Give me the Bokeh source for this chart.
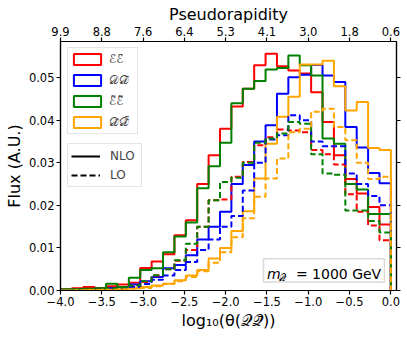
import numpy as np
from bokeh.plotting import figure
from bokeh.models import (Range1d, LinearAxis, FixedTicker, Legend, LegendItem,
                          BoxAnnotation, Label)
from bokeh.embed import file_html
from bokeh.resources import INLINE

# 29 equal bins in log10(theta) from -4 to 0
bin_edges = np.linspace(-4.0, 0.0, 30)

red_nlo = [0.0003, 0.0005, 0.0008, 0.0006, 0.0010, 0.0014, 0.0018, 0.0053, 0.0068, 0.0085,
           0.0130, 0.0165, 0.0250, 0.0318, 0.0380, 0.0432, 0.0474, 0.0529, 0.0556, 0.0527,
           0.0517, 0.0510, 0.0466, 0.0396, 0.0318, 0.0262, 0.0228, 0.0196, 0.0155]
blue_nlo = [0.0001, 0.0002, 0.0003, 0.0004, 0.0006, 0.0008, 0.0014, 0.0022, 0.0032, 0.0052,
            0.0060, 0.0083, 0.0120, 0.0150, 0.0185, 0.0250, 0.0295, 0.0350, 0.0388, 0.0462,
            0.0501, 0.0507, 0.0530, 0.0505, 0.0490, 0.0384, 0.0336, 0.0276, 0.0252]
green_nlo = [0.0003, 0.0003, 0.0004, 0.0005, 0.0016, 0.0008, 0.0030, 0.0048, 0.0052, 0.0090,
             0.0127, 0.0160, 0.0240, 0.0292, 0.0347, 0.0440, 0.0474, 0.0492, 0.0519, 0.0523,
             0.0552, 0.0529, 0.0505, 0.0357, 0.0345, 0.0250, 0.0237, 0.0180, 0.0180]
orange_nlo = [0.0000, 0.0001, 0.0001, 0.0002, 0.0002, 0.0003, 0.0005, 0.0008, 0.0012, 0.0016,
              0.0024, 0.0035, 0.0048, 0.0075, 0.0100, 0.0140, 0.0186, 0.0263, 0.0345, 0.0408,
              0.0455, 0.0531, 0.0531, 0.0540, 0.0480, 0.0423, 0.0443, 0.0335, 0.0330]

red_lo = [0.0000, 0.0001, 0.0002, 0.0003, 0.0004, 0.0006, 0.0010, 0.0020, 0.0035, 0.0050,
          0.0070, 0.0095, 0.0150, 0.0212, 0.0214, 0.0267, 0.0302, 0.0341, 0.0360, 0.0378,
          0.0376, 0.0372, 0.0330, 0.0320, 0.0296, 0.0226, 0.0185, 0.0153, 0.0118]
blue_lo = [0.0000, 0.0001, 0.0001, 0.0002, 0.0003, 0.0005, 0.0008, 0.0015, 0.0025, 0.0035,
           0.0048, 0.0067, 0.0095, 0.0120, 0.0150, 0.0175, 0.0235, 0.0300, 0.0355, 0.0365,
           0.0412, 0.0400, 0.0350, 0.0339, 0.0339, 0.0275, 0.0250, 0.0222, 0.0200]
green_lo = [0.0000, 0.0001, 0.0002, 0.0003, 0.0005, 0.0007, 0.0012, 0.0022, 0.0036, 0.0050,
            0.0071, 0.0110, 0.0150, 0.0212, 0.0255, 0.0265, 0.0300, 0.0347, 0.0357, 0.0369,
            0.0396, 0.0392, 0.0320, 0.0275, 0.0272, 0.0188, 0.0188, 0.0163, 0.0136]
orange_lo = [0.0000, 0.0000, 0.0001, 0.0001, 0.0002, 0.0003, 0.0004, 0.0006, 0.0010, 0.0015,
             0.0022, 0.0032, 0.0045, 0.0065, 0.0090, 0.0125, 0.0170, 0.0220, 0.0263, 0.0310,
             0.0372, 0.0380, 0.0420, 0.0427, 0.0384, 0.0353, 0.0300, 0.0262, 0.0267]

series_colors = ["red", "blue", "green", "orange"]
series_labels = ["\u2130\u2130\u0304",
                 "\U0001D49F\U0001D49F\u0304",
                 "\u2130\u0303\u2130\u0303\u0304",
                 "\U0001D49F\u0303\U0001D49F\u0303\u0304"]
nlo_series = [red_nlo, blue_nlo, green_nlo, orange_nlo]
lo_series = [red_lo, blue_lo, green_lo, orange_lo]

x_ticks = [-4.0, -3.5, -3.0, -2.5, -2.0, -1.5, -1.0, -0.5, 0.0]
x_tick_labels = ["\u22124.0", "\u22123.5", "\u22123.0", "\u22122.5", "\u22122.0",
                 "\u22121.5", "\u22121.0", "\u22120.5", "0.0"]
eta_tick_labels = ["9.9", "8.8", "7.6", "6.4", "5.3", "4.1", "3.0", "1.8", "0.6"]
y_ticks = [0.0, 0.01, 0.02, 0.03, 0.04, 0.05]
y_tick_labels = ["0.00", "0.01", "0.02", "0.03", "0.04", "0.05"]

FONT = "DejaVu Sans"
TICK_SIZE = "11.5px"
LABEL_SIZE = "16px"


def step_path(values):
    xs = np.repeat(bin_edges, 2)
    ys = np.concatenate([[0.0], np.repeat(values, 2), [0.0]])
    return xs, ys


p = figure(width=407, height=338, x_range=Range1d(-4.0, 0.068), y_range=Range1d(0.0, 0.0585),
           output_backend="svg", toolbar_location=None,
           min_border_left=60, min_border_right=11, min_border_top=41, min_border_bottom=48)
p.grid.visible = False
p.outline_line_color = "black"
p.outline_line_width = 1.2
p.background_fill_color = "white"
p.border_fill_color = "white"


def style_axis(ax, ticks, labels):
    ax.ticker = FixedTicker(ticks=ticks)
    ax.major_label_overrides = {t: l for t, l in zip(ticks, labels)}
    ax.major_label_text_font = FONT
    ax.major_label_text_font_size = TICK_SIZE
    ax.major_label_text_color = "black"
    ax.axis_label_text_font = FONT
    ax.axis_label_text_font_size = LABEL_SIZE
    ax.axis_label_text_font_style = "normal"
    ax.axis_label_text_color = "black"
    ax.major_tick_out = 4
    ax.major_tick_in = 0
    ax.minor_tick_line_color = None
    ax.axis_line_color = "black"
    ax.axis_line_width = 1.2
    ax.major_tick_line_width = 1.2
    ax.major_label_standoff = 2
    ax.axis_label_standoff = 1


xb = p.xaxis[0]
style_axis(xb, x_ticks, x_tick_labels)
xb.axis_label = "log\u2081\u2080(\u03b8(\U0001D4AC\U0001D4AC\u0304))"
xb.axis_label_standoff = 2

yl = p.yaxis[0]
style_axis(yl, y_ticks, y_tick_labels)
yl.axis_label = "Flux (A.U.)"
yl.axis_label_standoff = 2

xt = LinearAxis()
style_axis(xt, x_ticks, eta_tick_labels)
xt.axis_label = "Pseudorapidity"
xt.axis_label_standoff = 0
p.add_layout(xt, "above")

yr = LinearAxis()
style_axis(yr, y_ticks, ["" for _ in y_ticks])
yr.major_label_text_font_size = "0px"
yr.major_label_standoff = 0
p.add_layout(yr, "right")

# histograms
for vals, col in zip(nlo_series, series_colors):
    xs, ys = step_path(vals)
    p.line(xs, ys, line_color=col, line_width=2.0)
for vals, col in zip(lo_series, series_colors):
    xs, ys = step_path(vals)
    p.line(xs, ys, line_color=col, line_width=2.0, line_dash="6 3")

# legend proxies (renderers with no drawable data)
nan = float("nan")
patch_items = []
for col, lab in zip(series_colors, series_labels):
    r = p.quad(left=[nan], right=[nan], top=[nan], bottom=[nan], fill_color=None,
               line_color=col, line_width=2)
    patch_items.append(LegendItem(label=lab, renderers=[r]))
r_solid = p.line(x=[nan, nan], y=[nan, nan], line_color="black", line_width=2)
r_dash = p.line(x=[nan, nan], y=[nan, nan], line_color="black", line_width=2, line_dash="6 3")
style_items = [LegendItem(label="NLO", renderers=[r_solid]),
               LegendItem(label="LO", renderers=[r_dash])]


def style_legend(leg):
    leg.label_text_font = FONT
    leg.label_text_font_size = "12px"
    leg.border_line_color = "#cccccc"
    leg.border_line_width = 1
    leg.background_fill_color = "white"
    leg.background_fill_alpha = 0.8
    leg.margin = 0


leg1 = Legend(items=patch_items, location=(7, 156))
style_legend(leg1)
leg1.glyph_width = 34
leg1.glyph_height = 14
leg1.label_height = 18
leg1.spacing = 3
leg1.padding = 2
leg1.label_standoff = 5
leg1.label_width = 26
p.add_layout(leg1)

leg2 = Legend(items=style_items, location=(7, 103))
style_legend(leg2)
leg2.glyph_width = 29
leg2.glyph_height = 14
leg2.label_height = 17
leg2.spacing = 2
leg2.padding = 3
leg2.label_standoff = 10
leg2.label_width = 28
p.add_layout(leg2)

# mass text box
box = BoxAnnotation(left=-1.542, right=-0.078, bottom=0.00202, top=0.00746,
                    fill_color="white", fill_alpha=1.0, line_color="#808080", line_width=1.5)
p.add_layout(box)
p.add_layout(Label(x=-1.50, y=0.00394, text="m", text_font=FONT, text_font_size="14px",
                   text_font_style="italic", text_baseline="alphabetic", text_color="black"))
p.add_layout(Label(x=-1.352, y=0.00300, text="\U0001D4AC", text_font=FONT, text_font_size="10px",
                   text_baseline="alphabetic", text_color="black"))
p.add_layout(Label(x=-1.150, y=0.00394, text="= 1000 GeV", text_font=FONT, text_font_size="14px",
                   text_baseline="alphabetic", text_color="black"))

open("out.html", "w").write(file_html(p, INLINE))
